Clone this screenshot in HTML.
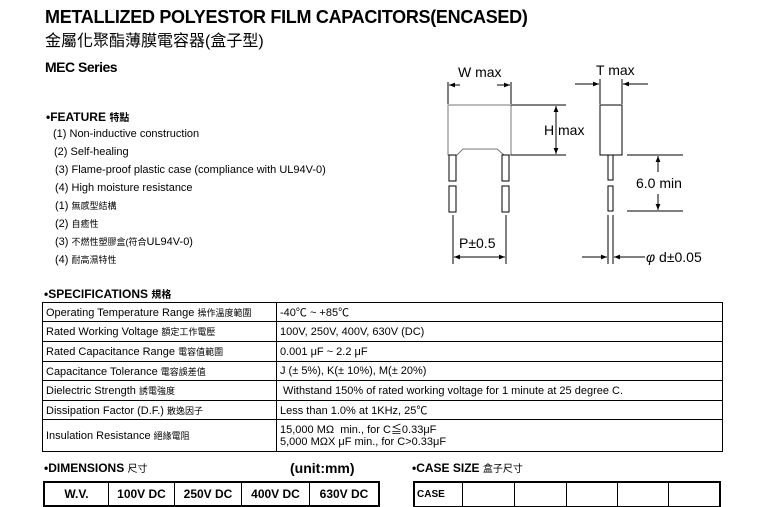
<!DOCTYPE html>
<html><head><meta charset="utf-8"><style>
body{margin:0;width:770px;height:500px;background:#fff;position:relative;overflow:hidden;font-family:"Liberation Sans","Noto Sans CJK TC",sans-serif;color:#000}
.a{position:absolute;white-space:nowrap;line-height:1}
.s{font-size:11px}
table{position:absolute;border-collapse:collapse}
td{border:1px solid #000;padding:0 3px;font-size:11px;white-space:nowrap}
</style></head><body>
<div class="a" style="left:45px;top:8px;font-size:18px;font-weight:bold;letter-spacing:-0.3px">METALLIZED POLYESTOR FILM CAPACITORS(ENCASED)</div>
<div class="a" style="left:45px;top:34px;font-size:16px">金屬化聚酯薄膜電容器(盒子型)</div>
<div class="a" style="left:45px;top:60px;font-size:14px;font-weight:bold;letter-spacing:-0.5px">MEC Series</div>
<div class="a" style="left:46px;top:111px;font-size:12px;font-weight:bold">•FEATURE <span style="font-size:10px">特點</span></div>
<div class="a s" style="left:53px;top:129px">(1) Non-inductive construction</div>
<div class="a s" style="left:54px;top:147px">(2) Self-healing</div>
<div class="a s" style="left:55px;top:165px">(3) Flame-proof plastic case (compliance with UL94V-0)</div>
<div class="a s" style="left:55px;top:183px">(4) High moisture resistance</div>
<div class="a s" style="left:55px;top:201px">(1) <span style="font-size:9px">無感型結構</span></div>
<div class="a s" style="left:55px;top:219px">(2) <span style="font-size:9px">自癒性</span></div>
<div class="a s" style="left:55px;top:237px">(3) <span style="font-size:9px">不燃性塑膠盒(符合</span>UL94V-0)</div>
<div class="a s" style="left:55px;top:255px">(4) <span style="font-size:9px">耐高濕特性</span></div>

<svg style="position:absolute;left:0;top:0" width="770" height="290">
<defs><marker id="ar" viewBox="0 0 10 10" refX="10" refY="5" markerWidth="6" markerHeight="6" orient="auto-start-reverse"><path d="M0,1 L10,5 L0,9z" fill="#000"/></marker></defs>
<g fill="none" stroke="#000" stroke-width="1">
<path d="M448,155 L448,105 L511,105 L511,155 L504,155 L497,149 L463,149 L457,155 Z" stroke="#777"/>
<rect x="449" y="155" width="7" height="26"/><rect x="449" y="186" width="7" height="26"/>
<rect x="502" y="155" width="7" height="26"/><rect x="502" y="186" width="7" height="26"/>
<line x1="448" y1="82" x2="448" y2="104"/><line x1="511" y1="82" x2="511" y2="104"/>
<line x1="449" y1="85" x2="460" y2="85" marker-start="url(#ar)"/><line x1="497" y1="85" x2="510" y2="85" marker-end="url(#ar)"/>
<line x1="511" y1="105" x2="566" y2="105"/><line x1="511" y1="155" x2="566" y2="155"/>
<line x1="556" y1="106" x2="556" y2="154" marker-start="url(#ar)" marker-end="url(#ar)"/>
<rect x="600" y="105" width="22" height="50"/>
<rect x="608" y="155" width="5" height="25"/><rect x="608" y="186" width="5" height="25"/>
<line x1="608" y1="215" x2="608" y2="264"/><line x1="613" y1="215" x2="613" y2="264"/>
<line x1="600" y1="79" x2="600" y2="104"/><line x1="622" y1="79" x2="622" y2="104"/>
<line x1="575" y1="84" x2="599" y2="84" marker-end="url(#ar)"/><line x1="648" y1="84" x2="623" y2="84" marker-end="url(#ar)"/>
<line x1="627" y1="155" x2="683" y2="155"/><line x1="627" y1="211" x2="683" y2="211"/>
<line x1="658" y1="156" x2="658" y2="172" marker-start="url(#ar)"/><line x1="658" y1="194" x2="658" y2="210" marker-end="url(#ar)"/>
<line x1="453" y1="215" x2="453" y2="264"/><line x1="506" y1="215" x2="506" y2="264"/>
<line x1="454" y1="257" x2="505" y2="257" marker-start="url(#ar)" marker-end="url(#ar)"/>
<line x1="582" y1="257" x2="607" y2="257" marker-end="url(#ar)"/><line x1="645" y1="257" x2="614" y2="257" marker-end="url(#ar)"/>
</g>
<g font-family="Liberation Sans,sans-serif" font-size="14" fill="#000">
<text x="458" y="77">W max</text>
<text x="596" y="75">T max</text>
<text x="544" y="135">H max</text>
<text x="636" y="188">6.0 min</text>
<text x="459" y="248">P±0.5</text>
<text x="646" y="262"><tspan font-style="italic">φ</tspan> d±0.05</text>
</g>
</svg>

<div class="a" style="left:44px;top:288px;font-size:12px;font-weight:bold">•SPECIFICATIONS <span style="font-size:10px">規格</span></div>
<table style="left:42px;top:302px;width:681px">
<col style="width:234px"><col>
<tr style="height:19px"><td>Operating Temperature Range <span style="font-size:9px">操作溫度範圍</span></td><td>-40℃ ~ +85℃</td></tr>
<tr style="height:20px"><td>Rated Working Voltage <span style="font-size:9px">額定工作電壓</span></td><td>100V, 250V, 400V, 630V (DC)</td></tr>
<tr style="height:20px"><td>Rated Capacitance Range <span style="font-size:9px">電容值範圍</span></td><td>0.001 μF ~ 2.2 μF</td></tr>
<tr style="height:19px"><td>Capacitance Tolerance <span style="font-size:9px">電容誤差值</span></td><td>J (± 5%), K(± 10%), M(± 20%)</td></tr>
<tr style="height:20px"><td>Dielectric Strength <span style="font-size:9px">誘電強度</span></td><td>&nbsp;Withstand 150% of rated working voltage for 1 minute at 25 degree C.</td></tr>
<tr style="height:19px"><td>Dissipation Factor (D.F.) <span style="font-size:9px">散逸因子</span></td><td>Less than 1.0% at 1KHz, 25℃</td></tr>
<tr style="height:32px"><td>Insulation Resistance <span style="font-size:9px">絕緣電阻</span></td><td style="line-height:12px">15,000 MΩ &nbsp;min., for C≦0.33μF<br>5,000 MΩX μF min., for C&gt;0.33μF</td></tr>
</table>

<div class="a" style="left:44px;top:462px;font-size:12px;font-weight:bold">•DIMENSIONS <span style="font-size:10px;font-weight:normal">尺寸</span></div>
<div class="a" style="left:290px;top:461px;font-size:14px;font-weight:bold">(unit:mm)</div>
<div class="a" style="left:412px;top:462px;font-size:12px;font-weight:bold">•CASE SIZE <span style="font-size:10px;font-weight:normal">盒子尺寸</span></div>

<table style="left:43px;top:481px;border:2px solid #000">
<tr style="height:24px;font-weight:bold">
<td style="width:57px;text-align:center;font-weight:bold;font-size:12px">W.V.</td>
<td style="width:59px;text-align:center;font-weight:bold;font-size:12px">100V DC</td>
<td style="width:60px;text-align:center;font-weight:bold;font-size:12px">250V DC</td>
<td style="width:61px;text-align:center;font-weight:bold;font-size:12px">400V DC</td>
<td style="width:62px;text-align:center;font-weight:bold;font-size:12px">630V DC</td></tr>
</table>
<table style="left:413px;top:481px;border:2px solid #000;border-bottom:none">
<tr style="height:24px"><td style="width:43px;font-weight:bold;font-size:10px;padding:0 2px">CASE</td>
<td style="width:45px"></td><td style="width:45px"></td><td style="width:44px"></td><td style="width:44px"></td><td style="width:44px"></td></tr>
</table>
</body></html>
